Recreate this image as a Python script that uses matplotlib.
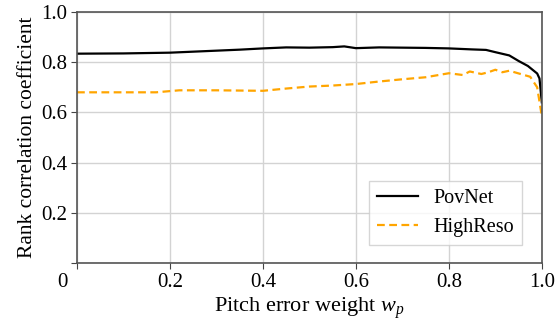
import matplotlib.pyplot as plt
import matplotlib.transforms as mtransforms

# PovNet (solid black)
pov_x = [0.0, 0.1, 0.2, 0.25, 0.3, 0.35, 0.4, 0.45, 0.5, 0.55, 0.575, 0.6, 0.65,
         0.7, 0.75, 0.8, 0.85, 0.88, 0.9, 0.93, 0.95, 0.97, 0.99, 0.995, 1.0]
pov_y = [0.834, 0.835, 0.838, 0.842, 0.846, 0.850, 0.855, 0.859, 0.858, 0.860, 0.863, 0.856, 0.859,
         0.858, 0.857, 0.855, 0.851, 0.849, 0.840, 0.827, 0.805, 0.785, 0.755, 0.735, 0.64]

# HighReso (dashed orange)
hr_x = [0.0, 0.1, 0.17, 0.22, 0.3, 0.4, 0.45, 0.5, 0.55, 0.6, 0.65, 0.7, 0.75,
        0.8, 0.83, 0.845, 0.87, 0.885, 0.9, 0.915, 0.93, 0.96, 0.975, 0.99, 1.0]
hr_y = [0.680, 0.680, 0.680, 0.688, 0.688, 0.686, 0.695, 0.703, 0.707, 0.713, 0.723, 0.732, 0.740,
        0.756, 0.749, 0.763, 0.753, 0.760, 0.770, 0.760, 0.766, 0.750, 0.742, 0.700, 0.585]

x_ticks = [0, 0.2, 0.4, 0.6, 0.8, 1.0]
x_labels = ["0", "0.2", "0.4", "0.6", "0.8", "1.0"]
y_ticks = [0, 0.2, 0.4, 0.6, 0.8, 1.0]
y_labels = ["", "0.2", "0.4", "0.6", "0.8", "1.0"]


def main():
    plt.rcParams['font.family'] = ['Liberation Serif', 'DejaVu Serif']
    plt.rcParams['mathtext.fontset'] = 'custom'
    plt.rcParams['mathtext.rm'] = 'Liberation Serif'
    plt.rcParams['mathtext.it'] = 'Liberation Serif:italic'

    fig = plt.figure(figsize=(5.58, 3.25), dpi=100)
    ax = fig.add_axes([0.138, 0.191, 0.833, 0.772])

    ax.plot(pov_x, pov_y, color='black', lw=1.6, label='PovNet')
    ax.plot(hr_x, hr_y, color='#FFA500', lw=1.6, dashes=(3.5, 2), label='HighReso')

    ax.set_xlim(0, 1)
    ax.set_ylim(0, 1)
    ax.set_xticks(x_ticks)
    ax.set_xticklabels(x_labels, fontsize=15)
    ax.set_yticks(y_ticks)
    ax.set_yticklabels(y_labels, fontsize=15)
    ax.grid(True, color='#d3d3d3', lw=1)
    ax.tick_params(direction='out', length=4, color='#444444', pad=3)
    for s in ax.spines.values():
        s.set_color('#555555')
        s.set_linewidth(1.2)

    # shift "0" on the x axis a bit to the left like the original
    offset = mtransforms.ScaledTranslation(-0.15, 0, fig.dpi_scale_trans)
    lbl = ax.get_xticklabels()[0]
    lbl.set_transform(lbl.get_transform() + offset)

    ax.set_xlabel(r"Pitch error weight $w_p$", fontsize=16, labelpad=3)
    ax.set_ylabel("Rank correlation coefficient", fontsize=15.5, labelpad=3)

    leg = ax.legend(loc='lower right', bbox_to_anchor=(0.98, 0.03), fontsize=14.5,
                    fancybox=False, edgecolor='#cccccc', handlelength=2.0)
    leg.get_frame().set_linewidth(1.0)

    fig.savefig('out.png', dpi=100)


if __name__ == '__main__':
    main()
